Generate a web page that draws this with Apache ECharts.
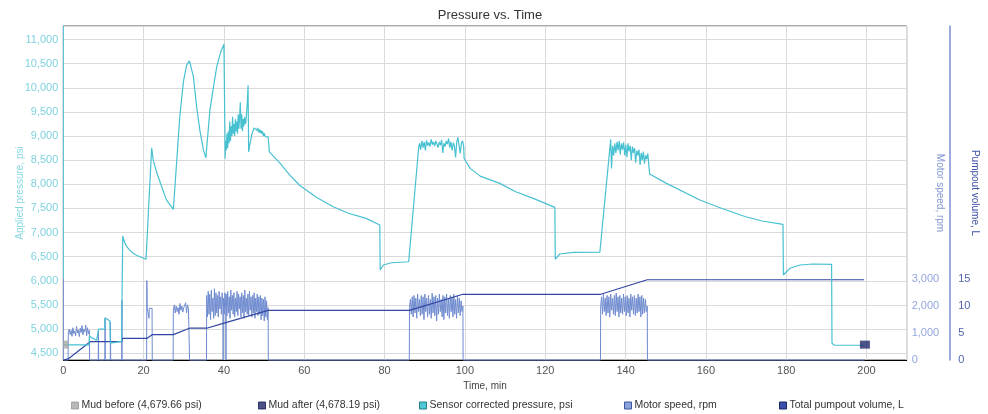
<!DOCTYPE html>
<html><head><meta charset="utf-8">
<script src="https://cdn.jsdelivr.net/npm/echarts@6/dist/echarts.min.js"></script>
<style>html,body{margin:0;padding:0;background:#fff}#c{width:988px;height:414px}</style>
</head><body><div id="c"></div>
<script>
// ---------------- DATA ----------------
const seriesNames = ['Mud before (4,679.66 psi)', 'Mud after (4,678.19 psi)', 'Sensor corrected pressure, psi', 'Motor speed, rpm', 'Total pumpout volume, L'];
const mudBefore = [[0.6, 4679.66]];
const mudAfter = [[199.6, 4678.19]];

// Sensor corrected pressure, psi  ([time min, psi])
const pressureStart = [[0,4672],[6.4,4672],[6.5,4850],[8.3,4770],[8.7,4770],[8.8,5000],[10.3,5000],[10.4,5236],[11.6,5170],[11.7,4710],[14.5,4745],
  [14.8,6930],[15.3,6790],[15.8,6707],[16.6,6630],[17.4,6570],[18.2,6530],[19.1,6500],[20.6,6446],
  [22.0,8756],[22.4,8501],[23.2,8259],[24.5,7949],[25.7,7673],[27.4,7481],
  [28.2,8433],[29.0,9398],[29.9,10122],[30.7,10468],[31.4,10557],[31.6,10500],[32.4,10226],[33.2,9605],[34.0,9122],[34.9,8708],[35.5,8549],
  [36.5,9536],[37.4,10019],[38.2,10433],[39.2,10743],[40.0,10903],[40.2,10929],[40.3,8536]];
const pressureNoise1 = [8900,8700,9050,8750,9100,8850,9300,8900,9200,9000,9400,9050,9250,9000,9350,9100,9300,9050,9450,9150,9400,9700,9150,9450,9100,9350,9200,9400,9250,9300,9500,9700,10054]; // 40.4 - 46.0
const pressureMid1 = [[46.15,8673],[46.5,8850],[47.0,9050],[47.5,9170],[47.9,9191],[48.2,9120],[48.4,9170],[48.6,9080],[48.8,9140],[49.0,9060],[49.2,9120],[49.4,9050],[49.6,9100],[49.8,9000],[50.0,9060],[50.3,8990],[50.6,9010],[51.0,8984],[51.3,8673],
  [54.0,8433],[56.4,8190],[58.9,7975],[63.0,7730],[67.2,7535],[71.0,7400],[75.4,7294],[78.8,7156],[78.9,6224],[79.7,6328],[81.7,6375],[86.0,6396],[88.5,8777]];
const pressureNoise2 = [8850,8720,8900,8760,8880,8700,8910,8800,8870,8780,8930,8820,8880,8790,8900,8830,8760,8880,8810,8920,8650,8850,8780,8900,8830,8950,8760,8880,8700,8860,8800,8557,8870,8971,8800,8640,8850,8900,8777]; // 88.7 - 99.7
const pressureMid2 = [[99.8,8536],[101.3,8330],[103.8,8170],[108.7,8019],[112.5,7850],[117.0,7708],[122.4,7522],[122.5,6446],[123.6,6556],[127.0,6591],[133.6,6597],[136.3,8930]];
const pressureNoise3 = [8330,8800,8600,8850,8650,8880,8700,8900,8620,8850,8720,8870,8600,8820,8560,8850,8680,8800,8500,8780,8650,8750,8450,8700,8600,8720,8400,8650,8500,8680,8430,8600,8520,8640,8600]; // 136.5 - 145.8
const pressureEnd = [[146.0,8212],[150.2,8019],[158.5,7675],[164.0,7500],[169.9,7328],[174.0,7240],[179.2,7170],[179.3,6121],[180.9,6260],[183.4,6328],[186.7,6349],[191.3,6342],[191.4,4707],[192.0,4666],[199.3,4666]];

// Motor speed, rpm
const motorSteps1 = [[0,0],[1.2,0]];
const motorBlockA = [1000,1150,950,1100,880,1200,980,1080,900,1250,1000,1120,870,1180,1020,1280,930,1150,1050,1300,900,1200,980,1100]; // 1.25 - 6.5
const motorSteps2 = [[6.55,0],[8.7,0],[8.75,1115],[8.8,0],[10.35,0],[10.4,1550],[10.45,0],[11.7,0],[11.75,1400],[11.8,0],[14.55,0],[14.6,2230],[14.65,0],
  [20.75,0],[20.8,2950],[20.9,1922],[21.3,1922],[21.35,1550],[21.4,1922],[22.1,1922],[22.15,0],[27.35,0]];
const motorBlockB = [1850,2050,1750,2000,1800,1950,1700,2100,1850,2000,1780,1950,1880,2130,1750,2050,1900,1922]; // 27.4 - 31.4
const motorSteps3 = [[31.45,0],[35.65,0]];
const motorBlockC1 = [2400,1600,2550,1700,2450,1500,2600,1800,2300,1550,2650,1650,2500,1750,2400,1600,2550,1900,2350,1700,2500,2000]; // 35.7 - 39.75
const motorBlockC2 = [2300,1700,2500,1900]; // 39.85 - 40.45
const motorBlockC3 = [2450,1650,2550,1750,2350,1550,2600,1850,2400,1700,2500,1600,2300,1800,2550,1650,2450,1900,2350,1600,2500,1750,2400,1550,2600,1800,2300,1700,2450,1650,2550,1850,2350,1600,2400,1750,2500,1550,2300,1800,2450,1650,2350,1700,2400,1500,2300,1650,2250,1450,2350,1600,2200,1500,1950]; // 40.55 - 51.0
const motorSteps4 = [[51.05,0],[86.15,0]];
const motorBlockD = [1950,2250,1700,2350,1600,2400,1750,2300,1550,2450,1800,2250,1650,2400,1700,2350,1500,2450,1800,2300,1600,2400,1700,2250,1550,2480,1750,2350,1650,2400,1450,2300,1700,2450,1800,2250,1600,2400,1500,2350,1750,2450,1650,2300,1550,2400,1800,2350,1600,2450,1700,2250,1550,2400,1750,2300,1650,2200,1800,2000]; // 86.2 - 99.5
const motorSteps5 = [[99.55,0],[133.75,0]];
const motorBlockE = [2000,2350,1700,2450,1800,2300,1650,2400,1750,2350,1600,2450,1850,2300,1700,2400,1650,2490,1800,2350,1600,2400,1750,2300,1700,2450,1800,2350,1650,2400,1750,2300,1600,2450,1850,2350,1700,2400,1650,2300,1750,2450,1800,2350,1600,2400,1700,2300,1750,2250,1800,2000]; // 133.8 - 145.4
const motorSteps6 = [[145.45,0],[199.5,0]];

// Total pumpout volume, L
const volumeData = [[0,0],[1.2,0.2],[6.7,3.4],[14.6,3.4],[14.65,4.0],[20.8,4.0],[22.1,4.7],[27.4,4.7],[31.4,5.9],[35.7,5.9],[39.8,6.8],[51.0,9.2],[86.2,9.2],[99.5,12.2],[133.8,12.2],[145.4,14.9],[199.4,14.9]];

// ---------------- BUILD ----------------
function block(t0, t1, vals) {
  const n = vals.length;
  return vals.map((v, i) => [t0 + (t1 - t0) * (n === 1 ? 0 : i / (n - 1)), v]);
}
const pressureData = [].concat(pressureStart, block(40.4, 46.0, pressureNoise1), pressureMid1,
  block(88.7, 99.7, pressureNoise2), pressureMid2, block(136.5, 145.8, pressureNoise3), pressureEnd);
const motorData = [].concat(motorSteps1, block(1.25, 6.5, motorBlockA), motorSteps2, block(27.4, 31.4, motorBlockB),
  motorSteps3, block(35.7, 39.75, motorBlockC1), [[39.8, 0]], block(39.85, 40.45, motorBlockC2), [[40.5, 0]],
  block(40.55, 51.0, motorBlockC3), motorSteps4, block(86.2, 99.5, motorBlockD), motorSteps5,
  block(133.8, 145.4, motorBlockE), motorSteps6);

const FONT = "'Liberation Sans', Arial, sans-serif";
const C_CYAN = '#47c1d1', C_MOTOR = '#6f8bcf', C_VOL = '#3346a3', C_BEFORE = '#a8a8a8', C_AFTER = '#20286a';
const fmt = v => Number(v).toLocaleString('en-US');

const legendLefts = [71, 258, 419, 624, 779];
const legendStyles = [
  {color: C_BEFORE, borderColor: '#9a9a9a'},
  {color: C_AFTER, borderColor: '#141a50'},
  {color: '#4fc8d6', borderColor: '#237c88'},
  {color: '#8aa3dc', borderColor: '#3c559e'},
  {color: '#3a4faa', borderColor: '#1a2668'}
];

const chart = echarts.init(document.getElementById('c'), null, {renderer: 'canvas'});
chart.setOption({
  animation: false,
  textStyle: {fontFamily: FONT},
  title: {text: 'Pressure vs. Time', left: 485, textAlign: 'center', top: 4,
    textStyle: {fontSize: 13, fontWeight: 'normal', color: '#333', fontFamily: FONT}},
  legend: seriesNames.map((n, i) => ({
    left: legendLefts[i], top: 400, padding: 0, itemWidth: 7, itemHeight: 7, itemGap: 0,
    textStyle: {fontSize: 10.5, color: '#333', fontFamily: FONT, padding: [0, 0, 0, -2]},
    data: [{name: n, icon: 'rect', itemStyle: Object.assign({borderWidth: 1}, legendStyles[i])}]
  })),
  grid: [
    {left: 63.3, right: 81.3, top: 26, bottom: 54, show: true, borderColor: '#555', borderWidth: 1, containLabel: false, outerBoundsMode: 'none'},
    {left: 63.3, right: 81.3, top: 279.3, bottom: 54, show: false, containLabel: false, outerBoundsMode: 'none'}
  ],
  xAxis: [
    {type: 'value', gridIndex: 0, min: 0, max: 210, interval: 20,
      name: 'Time, min', nameLocation: 'middle', nameGap: 21, nameMoveOverlap: false,
      nameTextStyle: {fontSize: 10, color: '#444', fontFamily: FONT},
      axisLine: {show: true, onZero: false, lineStyle: {color: '#000', width: 1}},
      axisTick: {show: false},
      axisLabel: {fontSize: 11, color: '#555', margin: 5, showMaxLabel: false},
      splitLine: {show: true, lineStyle: {color: '#dadada', width: 1}}},
    {type: 'value', gridIndex: 1, min: 0, max: 210, show: false}
  ],
  yAxis: [
    {type: 'value', gridIndex: 0, position: 'left', min: 4360, max: 11280, splitNumber: 14,
      name: 'Applied pressure, psi', nameLocation: 'middle', nameGap: 38, nameMoveOverlap: false,
      nameTextStyle: {fontSize: 10, color: '#86d6e2', fontFamily: FONT},
      axisLine: {show: true, lineStyle: {color: '#5cc6d4', width: 1}},
      axisTick: {show: false},
      axisLabel: {fontSize: 11, color: '#7fd2df', margin: 5, formatter: fmt, showMinLabel: false, showMaxLabel: false},
      splitLine: {show: true, lineStyle: {color: '#dadada', width: 1}}},
    {type: 'value', gridIndex: 1, position: 'right', min: 0, max: 3000, interval: 1000,
      axisLine: {show: true, lineStyle: {color: '#7d93d0', width: 1}},
      axisTick: {show: false},
      axisLabel: {fontSize: 11, color: '#93a6dc', margin: 5, formatter: fmt},
      splitLine: {show: false}},
    {type: 'value', gridIndex: 0, position: 'right', offset: 43.5, min: 0, max: 62, interval: 5,
      name: 'Pumpout volume, L', nameLocation: 'middle', nameGap: 20, nameRotate: -90, nameMoveOverlap: false,
      nameTextStyle: {fontSize: 10, color: '#3f51a6', fontFamily: FONT},
      axisLine: {show: true, lineStyle: {color: '#7b8fd0', width: 1.5}},
      axisTick: {show: false},
      axisLabel: {fontSize: 11, color: '#5264ad', margin: 8, formatter: v => (v <= 15 ? fmt(v) : '')},
      splitLine: {show: false}},
    {type: 'value', gridIndex: 0, position: 'right', offset: 0, min: 0, max: 1,
      name: 'Motor speed, rpm', nameLocation: 'middle', nameGap: 28, nameRotate: -90, nameMoveOverlap: false,
      nameTextStyle: {fontSize: 10, color: '#8296d2', fontFamily: FONT},
      axisLine: {show: false}, axisTick: {show: false}, axisLabel: {show: false}, splitLine: {show: false}}
  ],
  series: [
    {name: seriesNames[0], type: 'scatter', xAxisIndex: 0, yAxisIndex: 0, symbol: 'rect', symbolSize: [5, 8],
      itemStyle: {color: C_BEFORE}, data: mudBefore, z: 5},
    {name: seriesNames[1], type: 'scatter', xAxisIndex: 0, yAxisIndex: 0, symbol: 'rect', symbolSize: [10, 8],
      itemStyle: {color: C_AFTER}, data: mudAfter, z: 6},
    {name: seriesNames[2], type: 'line', xAxisIndex: 0, yAxisIndex: 0, showSymbol: false, symbol: 'none',
      lineStyle: {color: C_CYAN, width: 1.2}, itemStyle: {color: C_CYAN}, data: pressureData, z: 4},
    {name: seriesNames[3], type: 'line', xAxisIndex: 1, yAxisIndex: 1, showSymbol: false, symbol: 'none', clip: false,
      lineStyle: {color: C_MOTOR, width: 1}, itemStyle: {color: C_MOTOR}, data: motorData, z: 3},
    {name: seriesNames[4], type: 'line', xAxisIndex: 0, yAxisIndex: 2, showSymbol: false, symbol: 'none',
      lineStyle: {color: C_VOL, width: 1.2}, itemStyle: {color: C_VOL}, data: volumeData, z: 3}
  ]
});
</script>
</body></html>
